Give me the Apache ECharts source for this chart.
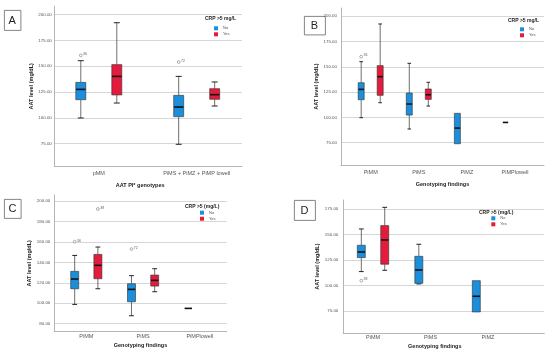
<!DOCTYPE html>
<html><head><meta charset="utf-8">
<script src="https://cdn.jsdelivr.net/npm/echarts@6/dist/echarts.min.js"></script>
<style>html,body{margin:0;padding:0;background:#fff}#c{width:550px;height:357px}</style>
</head><body><div id="c"></div>
<script>
// ---------- DATA ----------
// box rows: [min, Q1, median, Q3, max]
const catsA = ['pMM', 'PiMS + PiMZ + PiMP lowell'];
const ticksA = [75, 100, 125, 150, 175, 200];
const boxA_No = [[99.9, 117.6, 127.6, 134.4, 155.4], [74.4, 101.2, 110.5, 121.8, 140.2]];
const boxA_Yes = [[114.4, 122.2, 140.2, 151.6, 192.2], [111.5, 118.0, 122.5, 128.3, 134.8]];
const outA_No = [[0, 160.6, 36], [1, 154.1, 72]];
const outA_Yes = [];

const catsB = ['PiMM', 'PiMS', 'PiMZ', 'PiMPlowell'];
const ticksB = [75, 100, 125, 150, 175, 200];
const boxB_No = [[99.7, 117.5, 127.7, 134.3, 155.1], [88.5, 102.3, 113.2, 124.1, 153.5], [73.9, 73.9, 89.4, 104.0, 104.0], [95, 95, 95, 95, 95]];
const boxB_Yes = [[114.5, 121.8, 140.3, 151.2, 192.4], [111.2, 117.8, 122.4, 128.1, 134.7]];
const outB_No = [[0, 160.1, 36]];
const outB_Yes = [];

const catsC = ['PiMM', 'PiMS', 'PiMPlowell'];
const ticksC = [80, 100, 120, 140, 160, 180, 200];
const boxC_No = [[98.9, 114.2, 123.7, 131.2, 146.8], [87.8, 101.5, 113.6, 119.1, 127.0], [95, 95, 95, 95, 95]];
const boxC_Yes = [[114.2, 124.0, 137.1, 147.8, 155.0], [111.3, 116.8, 122.4, 127.6, 133.8]];
const outC_No = [[0, 160.2, 36], [1, 153.0, 72]];
const outC_Yes = [[0, 192.2, 38]];

const catsD = ['PiMM', 'PiMS', 'PiMZ'];
const ticksD = [75, 100, 125, 150, 175];
const boxD_No = [[113.6, 127.3, 132.8, 139.4, 155.4], [101.5, 102.1, 115.2, 128.6, 140.4], [74.0, 74.0, 89.4, 104.7, 104.7]];
const boxD_Yes = [[114.9, 120.8, 144.6, 158.7, 176.6]];
const outD_No = [[0, 104.7, 38]];
const outD_Yes = [];

// ---------- STYLE / LAYOUT ----------
const BLUE = '#1c8fdc', RED = '#e51b3d';
const FONT = 'Liberation Sans, Arial, sans-serif';

const panels = [
  { letter: 'A', cats: catsA, ticks: ticksA, no: boxA_No, yes: boxA_Yes, outNo: outA_No, outYes: outA_Yes,
    grid: { left: 54.3, top: 6, width: 187.7, height: 160.7 }, xr: [-0.4545, 1.463], yr: [52.7, 208.4],
    off: 18, w: 10, xName: 'AAT PI* genotypes', xGap: 15.3, xPad: [0, 16, 0, 0], yGap: 18.3, catMargin: 3.8, tickMargin: 2.5,
    legTitle: 'CRP >5 mg/L', legTitlePos: [205, 16.5], legPos: [214, 26.3], box: [4, 10, 16.5, 20] },
  { letter: 'B', cats: catsB, ticks: ticksB, no: boxB_No, yes: boxB_Yes, outNo: outB_No, outYes: outB_Yes,
    grid: { left: 341, top: 8, width: 203, height: 157 }, xr: [-0.617, 3.603], yr: [52.9, 208.2],
    off: 9.5, w: 6, xName: 'Genotyping findings', xGap: 16, xPad: [0, 0, 0, 0], yGap: 20.3, catMargin: 4, tickMargin: 4,
    legTitle: 'CRP >5 mg/L', legTitlePos: [508, 18], legPos: [520, 27.3], box: [304, 16, 21, 18.5] },
  { letter: 'C', cats: catsC, ticks: ticksC, no: boxC_No, yes: boxC_Yes, outNo: outC_No, outYes: outC_Yes,
    grid: { left: 54.3, top: 195, width: 172.4, height: 136.7 }, xr: [-0.563, 2.472], yr: [72.2, 205.9],
    off: 11.6, w: 8, xName: 'Genotyping findings', xGap: 11, xPad: [0, 0, 0, 0], yGap: 14.6, catMargin: 1.5, tickMargin: 4,
    legTitle: 'CRP >5 (mg/L)', legTitlePos: [185, 204.2], legPos: [200, 210.7], box: [4, 199, 16.7, 19] },
  { letter: 'D', cats: catsD, ticks: ticksD, no: boxD_No, yes: boxD_Yes, outNo: outD_No, outYes: outD_Yes,
    grid: { left: 343.3, top: 200, width: 201, height: 133.3 }, xr: [-0.517, 2.979], yr: [53.1, 183.8],
    off: 11.7, w: 8, xName: 'Genotyping findings', xGap: 10.4, xPad: [0, 18, 0, 0], yGap: 17, catMargin: 1.5, tickMargin: 5,
    legTitle: 'CRP >5 (mg/L)', legTitlePos: [479, 209.8], legPos: [491.3, 216.3], box: [294, 200, 21, 20] }
];

function boxItem(off, w) {
  return function (params, api) {
    const x = api.value(0);
    const v = [api.value(1), api.value(2), api.value(3), api.value(4), api.value(5)];
    const y = v.map(function (val) { return api.coord([x, val])[1]; });
    const cx = api.coord([x, v[0]])[0] + off;
    const color = api.visual('color');
    const ch = [];
    const wl = { stroke: '#4a4a4a', lineWidth: 0.8 };
    const cl = { stroke: '#222', lineWidth: 1 };
    const cap = w * 0.3;
    if (y[3] - y[4] > 0.5) {
      ch.push({ type: 'line', shape: { x1: cx, y1: y[4], x2: cx, y2: y[3] }, style: wl });
      ch.push({ type: 'line', shape: { x1: cx - cap, y1: y[4], x2: cx + cap, y2: y[4] }, style: cl });
    }
    if (y[0] - y[1] > 0.5) {
      ch.push({ type: 'line', shape: { x1: cx, y1: y[1], x2: cx, y2: y[0] }, style: wl });
      ch.push({ type: 'line', shape: { x1: cx - cap, y1: y[0], x2: cx + cap, y2: y[0] }, style: cl });
    }
    if (y[1] - y[3] > 0.5) {
      ch.push({ type: 'rect', shape: { x: cx - w / 2, y: y[3], width: w, height: y[1] - y[3] },
        style: { fill: color, stroke: '#2d2d2d', lineWidth: 0.6 } });
    }
    ch.push({ type: 'line', shape: { x1: cx - w / 2 + 0.3, y1: y[2], x2: cx + w / 2 - 0.3, y2: y[2] },
      style: { stroke: '#111', lineWidth: 1.6 } });
    return { type: 'group', children: ch };
  };
}
function outItem(off) {
  return function (params, api) {
    const pt = api.coord([api.value(0), api.value(1)]);
    const cx = pt[0] + off, cy = pt[1];
    return { type: 'group', children: [
      { type: 'circle', shape: { cx: cx, cy: cy, r: 1.4 }, style: { fill: '#fff', stroke: '#777', lineWidth: 0.6 } },
      { type: 'text', style: { x: cx + 2.3, y: cy - 1.2, text: String(api.value(2)), fontSize: 3.6,
        fontFamily: FONT, fill: '#666', verticalAlign: 'middle' } }
    ] };
  };
}

const grids = [], xAxes = [], yAxes = [], series = [], legends = [], titles = [], graphics = [];
panels.forEach(function (p, i) {
  grids.push(Object.assign({ containLabel: false }, p.grid));
  const idx = p.cats.map(function (c, k) { return k; });
  xAxes.push({
    type: 'value', gridIndex: i, min: p.xr[0], max: p.xr[1],
    axisLine: { show: true, onZero: false, lineStyle: { color: '#b5b5b5', width: 1 } },
    axisTick: { show: false, customValues: idx },
    splitLine: { show: false },
    axisLabel: { customValues: idx, margin: p.catMargin, fontSize: 5.5, color: '#555', fontFamily: FONT,
      formatter: function (v) { return p.cats[Math.round(v)]; } },
    name: p.xName, nameLocation: 'middle', nameGap: p.xGap,
    nameTextStyle: { fontSize: 5.5, fontWeight: 'bold', color: '#222', fontFamily: FONT, padding: p.xPad }
  });
  yAxes.push({
    type: 'value', gridIndex: i, min: p.yr[0], max: p.yr[1],
    axisLine: { show: true, onZero: false, lineStyle: { color: '#b5b5b5', width: 1 } },
    axisTick: { show: false, customValues: p.ticks },
    splitLine: { show: true, lineStyle: { color: '#d6d6d6', width: 1 } },
    axisLabel: { customValues: p.ticks, margin: p.tickMargin, fontSize: 4.4, color: '#555', fontFamily: FONT,
      formatter: function (v) { return v.toFixed(2); } },
    name: 'AAT level (mg/dL)', nameLocation: 'middle', nameGap: p.yGap, nameRotate: 90,
    nameTextStyle: { fontSize: 5.5, fontWeight: 'bold', color: '#222', fontFamily: FONT }
  });
  series.push({ type: 'custom', name: 'No', xAxisIndex: i, yAxisIndex: i, clip: false, z: 3,
    itemStyle: { color: BLUE }, encode: { x: 0, y: [1, 2, 3, 4, 5] },
    data: p.no.map(function (d, k) { return [k].concat(d); }), renderItem: boxItem(-p.off, p.w) });
  series.push({ type: 'custom', name: 'Yes', xAxisIndex: i, yAxisIndex: i, clip: false, z: 3,
    itemStyle: { color: RED }, encode: { x: 0, y: [1, 2, 3, 4, 5] },
    data: p.yes.map(function (d, k) { return [k].concat(d); }), renderItem: boxItem(p.off, p.w) });
  series.push({ type: 'custom', name: 'No outliers', xAxisIndex: i, yAxisIndex: i, clip: false, z: 4,
    encode: { x: 0, y: 1 }, data: p.outNo, renderItem: outItem(-p.off) });
  series.push({ type: 'custom', name: 'Yes outliers', xAxisIndex: i, yAxisIndex: i, clip: false, z: 4,
    encode: { x: 0, y: 1 }, data: p.outYes, renderItem: outItem(p.off) });
  legends.push({ data: ['No', 'Yes'], orient: 'vertical', left: p.legPos[0], top: p.legPos[1], padding: 0,
    itemWidth: 4, itemHeight: 4, itemGap: 2, icon: 'rect', selectedMode: false,
    textStyle: { fontSize: 4, color: '#555', fontFamily: FONT } });
  titles.push({ text: p.legTitle, left: p.legTitlePos[0], top: p.legTitlePos[1], padding: 0,
    textStyle: { fontSize: 5, fontWeight: 'bold', color: '#222', fontFamily: FONT } });
  graphics.push({ type: 'rect', left: p.box[0], top: p.box[1], shape: { width: p.box[2], height: p.box[3] },
    style: { fill: '#fff', stroke: '#666', lineWidth: 0.8 } });
  graphics.push({ type: 'text', x: p.box[0] + p.box[2] / 2, y: p.box[1] + p.box[3] / 2 + 0.5,
    style: { text: p.letter, fontSize: 11, fontFamily: FONT, fill: '#222', align: 'center', verticalAlign: 'middle' } });
});

const chart = echarts.init(document.getElementById('c'));
chart.setOption({
  animation: false,
  backgroundColor: '#fff',
  grid: grids, xAxis: xAxes, yAxis: yAxes, series: series,
  legend: legends, title: titles, graphic: graphics
});
</script></body></html>
